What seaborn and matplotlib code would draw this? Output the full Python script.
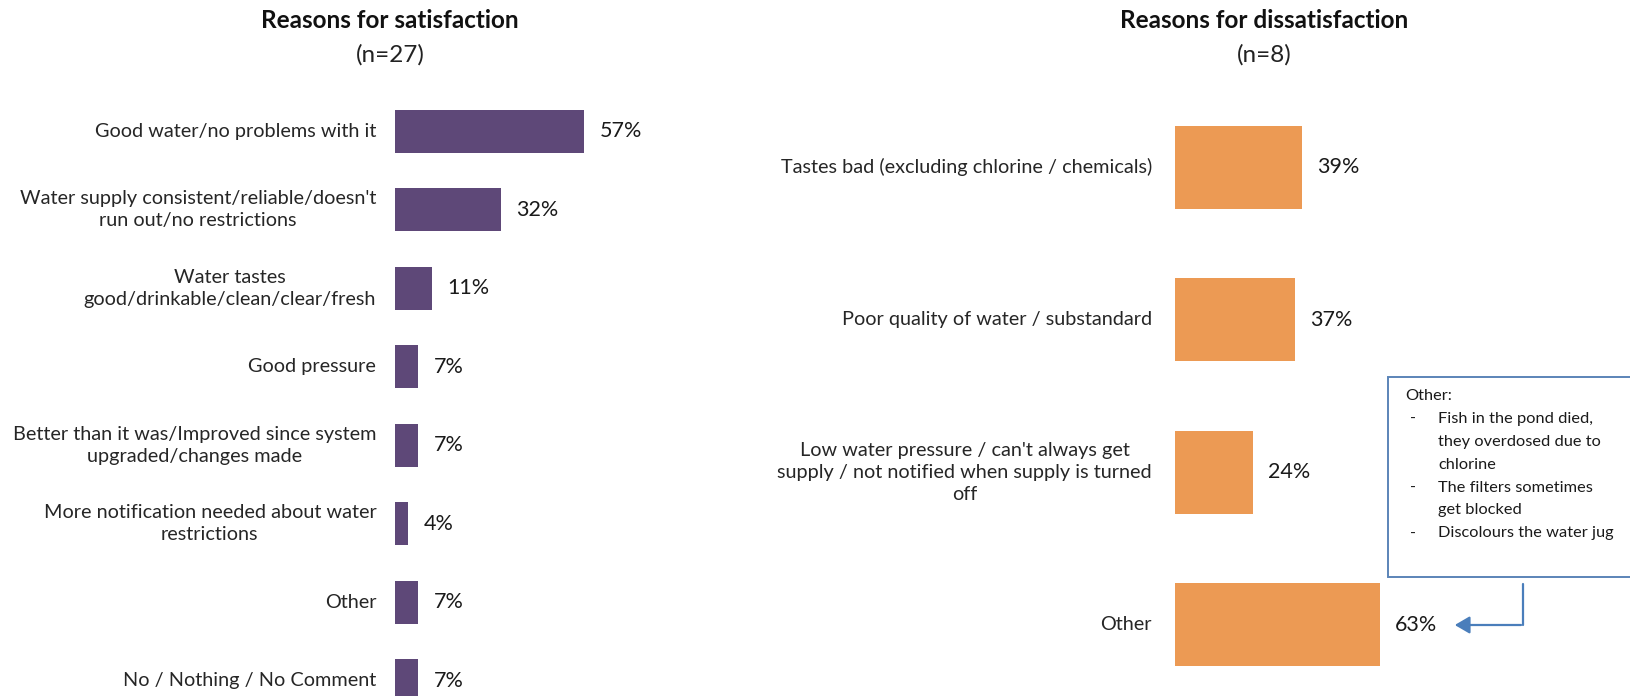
import matplotlib
matplotlib.use("Agg")
import matplotlib.pyplot as plt
import seaborn as sns
import pandas as pd
from matplotlib.lines import Line2D
from matplotlib.patches import Rectangle, FancyArrowPatch

sns.set_theme(style="white")
plt.rcParams['font.family'] = ['Lato', 'DejaVu Sans']

sat_categories = [
    "Good water/no problems with it",
    "Water supply consistent/reliable/doesn't\nrun out/no restrictions",
    "Water tastes\ngood/drinkable/clean/clear/fresh",
    "Good pressure",
    "Better than it was/Improved since system\nupgraded/changes made",
    "More notification needed about water\nrestrictions",
    "Other",
    "No / Nothing / No Comment",
]
sat_values = [57, 32, 11, 7, 7, 4, 7, 7]

dis_categories = [
    "Tastes bad (excluding chlorine / chemicals)",
    "Poor quality of water / substandard",
    "Low water pressure / can't always get\nsupply / not notified when supply is turned\noff",
    "Other",
]
dis_values = [39, 37, 24, 63]

other_title = "Other:"
other_items = [
    ["Fish in the pond died,", "they overdosed due to", "chlorine"],
    ["The filters sometimes", "get blocked"],
    ["Discolours the water jug"],
]

W, H = 1630, 696
fig = plt.figure(figsize=(W / 100, H / 100), dpi=100)


def fx(px):
    return px / W


def fy(py):
    return 1 - py / H


PURPLE = "#5E4878"
ORANGE = "#EC9A54"
BLUE = "#4A7EBB"
FS = 14.3


def panel(rect, cats, vals, color, pad):
    ax = fig.add_axes(rect)
    df = pd.DataFrame({"cat": cats, "val": vals})
    sns.barplot(data=df, x="val", y="cat", ax=ax, color=color, width=0.545,
                orient="h", linewidth=0, saturation=1)
    ax.set_xlim(0, 100)
    ax.set_ylim(len(cats) - 0.5, -0.5)
    for s in ax.spines.values():
        s.set_visible(False)
    ax.set_xticks([])
    ax.set_xlabel("")
    ax.set_ylabel("")
    ax.tick_params(axis="y", length=0, pad=pad, labelsize=FS, colors="#262626")
    for lab in ax.get_yticklabels():
        lab.set_multialignment("center")
        lab.set_linespacing(1.36)
        lab.set_verticalalignment("center")
    ax.bar_label(ax.containers[0], labels=[f"{v}%" for v in vals],
                 padding=11, fontsize=15.5, color="#1a1a1a")
    ax.patch.set_alpha(0)
    return ax


# Left panel: origin 395px, 3.32 px per %, center spacing 78.6px
lx0, lw = 395, 332
ltop, lbot = 92, 720
panel([fx(lx0), fy(lbot), fx(lw), (lbot - ltop) / H], sat_categories, sat_values, PURPLE, 13.5)

# Right panel: origin 1175px, 3.25 px per %, spacing 152.6px
rx0, rw = 1175, 325
rtop, rbot = 91, 701
panel([fx(rx0), fy(rbot), fx(rw), (rbot - rtop) / H], dis_categories, dis_values, ORANGE, 16.5)

# Titles
for cx, t1, t2 in [(390, "Reasons for satisfaction", "(n=27)"),
                   (1264, "Reasons for dissatisfaction", "(n=8)")]:
    fig.text(fx(cx), fy(21), t1, ha="center", va="center", fontsize=17.5,
             fontweight="bold", color="#111111")
    fig.text(fx(cx), fy(55), t2, ha="center", va="center", fontsize=17.5,
             color="#222222")

# Annotation box
bx0, by0, bx1, by1 = 1388, 377, 1640, 577
fig.patches.append(Rectangle((fx(bx0), fy(by1)), fx(bx1 - bx0), (by1 - by0) / H,
                             transform=fig.transFigure, fill=True, facecolor="white",
                             edgecolor="#5B84B8", linewidth=1.4, clip_on=False))
lh = 22.9
y = 396
BFS = 11.8
fig.text(fx(1405), fy(y), other_title, ha="left", va="center", fontsize=BFS, color="#1a1a1a")
for item in other_items:
    for i, line in enumerate(item):
        y += lh
        if i == 0:
            fig.text(fx(1410), fy(y), "-", ha="left", va="center", fontsize=BFS, color="#1a1a1a")
        fig.text(fx(1438), fy(y), line, ha="left", va="center", fontsize=BFS, color="#1a1a1a")

# Connector arrow from box to "63%" label
fig.lines.append(Line2D([fx(1523), fx(1523)], [fy(by1 + 7), fy(625)],
                        transform=fig.transFigure, color=BLUE, linewidth=1.6))
arr = FancyArrowPatch((fx(1523.8), fy(625)), (fx(1452), fy(625)),
                      transform=fig.transFigure, arrowstyle="-|>,head_length=6,head_width=3.5",
                      color=BLUE, linewidth=1.6, mutation_scale=1.5)
fig.patches.append(arr)

fig.savefig("out.png", dpi=100)
